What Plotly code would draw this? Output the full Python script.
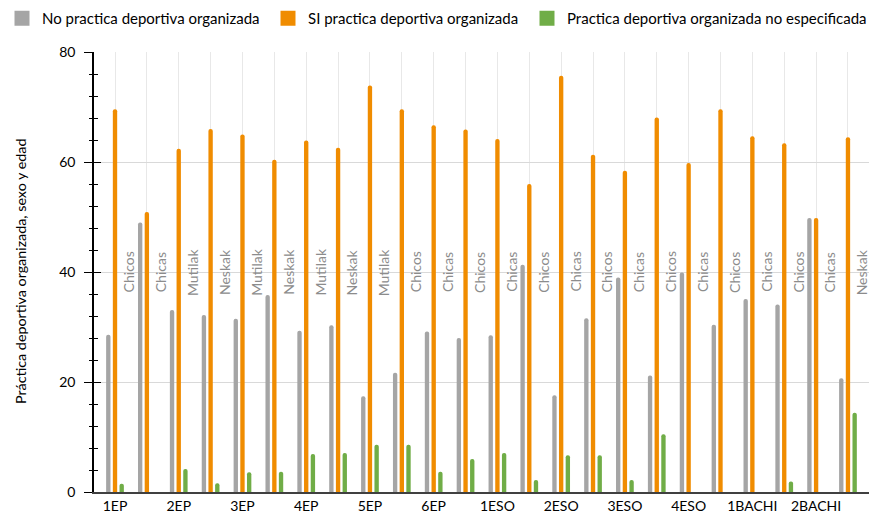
import plotly.graph_objects as go

groups = ["1EP", "2EP", "3EP", "4EP", "5EP", "6EP", "1ESO", "2ESO", "3ESO", "4ESO", "1BACHI", "2BACHI"]
sex_labels = ["Chicos", "Chicas", "Mutilak", "Neskak", "Mutilak", "Neskak", "Mutilak", "Neskak",
              "Mutilak", "Chicos", "Chicas", "Chicos", "Chicas", "Chicos", "Chicas", "Chicos",
              "Chicas", "Chicos", "Chicas", "Chicos", "Chicas", "Chicos", "Chicas", "Neskak"]

no_practica = [28.6, 49.0, 33.1, 32.2, 31.5, 35.8, 29.3, 30.3, 17.4, 21.7, 29.2, 28.0,
               28.5, 41.3, 17.6, 31.6, 39.0, 21.2, 39.9, 30.4, 35.1, 34.1, 49.8, 20.7]
si_practica = [69.6, 50.9, 62.4, 66.0, 65.0, 60.4, 63.9, 62.6, 73.9, 69.6, 66.7, 65.9,
               64.2, 56.0, 75.7, 61.3, 58.4, 68.1, 59.8, 69.6, 64.7, 63.4, 49.8, 64.5]
no_especificada = [1.5, 0, 4.2, 1.6, 3.6, 3.7, 6.9, 7.1, 8.6, 8.6, 3.7, 6.0,
                   7.1, 2.2, 6.7, 6.7, 2.2, 10.5, 0, 0, 0, 1.9, 0, 14.4]

series_names = ["No practica deportiva organizada", "SI practica deportiva organizada",
                "Practica deportiva organizada no especificada"]
colors = ["#A5A5A5", "#F08C00", "#70AD47"]
legend_ids = ["legend", "legend2", "legend3"]
legend_x_px = [2, 268, 527]

FONT = "Lato, 'Open Sans', sans-serif"
W, H = 869, 515
x = list(range(len(sex_labels)))

fig = go.Figure()
for name, vals, col in zip(series_names, [no_practica, si_practica, no_especificada], colors):
    fig.add_trace(go.Bar(x=x, y=vals, name=name, showlegend=False,
                         marker=dict(color=col, line=dict(width=0), cornerradius=2)))

# legend entries (square swatches) for the three series
for name, col, lg in zip(series_names, colors, legend_ids):
    fig.add_trace(go.Scatter(x=[None], y=[None], mode="markers", name=name, legend=lg,
                             marker=dict(symbol="square", size=15, color=col), hoverinfo="skip"))

# invisible helper trace so the overlay axis (cross ticks) is drawn
fig.add_trace(go.Scatter(x=[None], y=[None], yaxis="y2", showlegend=False, hoverinfo="skip"))

ticktext = [groups[i // 2] if i % 2 == 0 else "" for i in x]

for i, lab in enumerate(sex_labels):
    fig.add_annotation(x=i + 0.42, y=40, text=lab, textangle=-90, showarrow=False,
                       xanchor="center", yanchor="middle",
                       font=dict(family=FONT, size=14, color="#8C8C8C"))

fig.add_annotation(xref="paper", yref="paper", x=(20 - 94) / 775, y=0.5,
                   text="Práctica deportiva organizada, sexo y edad",
                   textangle=-90, showarrow=False, xanchor="center", yanchor="middle",
                   font=dict(family=FONT, size=14.3, color="#000000"))

legend_common = dict(orientation="h", xref="container", yref="container",
                     xanchor="left", yanchor="top", itemwidth=30, itemsizing="trace",
                     font=dict(family=FONT, size=15, color="#000000"),
                     bgcolor="rgba(0,0,0,0)", borderwidth=0)
legends = {}
for lg, px in zip(legend_ids, legend_x_px):
    legends[lg] = dict(legend_common, x=px / W, y=1 - 2 / H)

fig.update_layout(
    width=W, height=H,
    margin=dict(l=94, r=0, t=52, b=23, autoexpand=False),
    paper_bgcolor="white", plot_bgcolor="white",
    barmode="group", bargap=0.37, bargroupgap=0.35,
    font=dict(family=FONT, size=14, color="#000000"),
    showlegend=True,
    xaxis=dict(range=[-0.659, 23.66], tickmode="array", tickvals=x, ticktext=ticktext,
               showgrid=True, gridcolor="#E8E8E8", gridwidth=1, ticks="",
               showline=True, linecolor="#404040", linewidth=1.5, zeroline=False,
               tickfont=dict(family=FONT, size=14, color="#000000"), automargin=False),
    yaxis=dict(range=[0, 80], dtick=20, tick0=0, showgrid=True, gridcolor="#D9D9D9", gridwidth=1,
               showline=True, linecolor="#000000", linewidth=1.5, zeroline=False,
               ticks="outside", ticklen=8, tickwidth=1.3, tickcolor="#000000",
               ticklabelstandoff=6,
               minor=dict(dtick=4, ticks="outside", ticklen=3, tickwidth=1.3, tickcolor="#000000", showgrid=False),
               tickfont=dict(family=FONT, size=14, color="#000000"), automargin=False),
    yaxis2=dict(range=[0, 80], dtick=20, tick0=0, overlaying="y", anchor="x", side="left",
                showgrid=False, showline=False, zeroline=False, showticklabels=False,
                ticks="inside", ticklen=7, tickwidth=1.3, tickcolor="#000000",
                minor=dict(dtick=4, ticks="inside", ticklen=4, tickwidth=1.3, tickcolor="#000000", showgrid=False)),
    **legends,
)

fig.write_html("out.html", config={"displayModeBar": False},
               post_script="document.body.style.margin='0';document.body.style.overflow='hidden';")
